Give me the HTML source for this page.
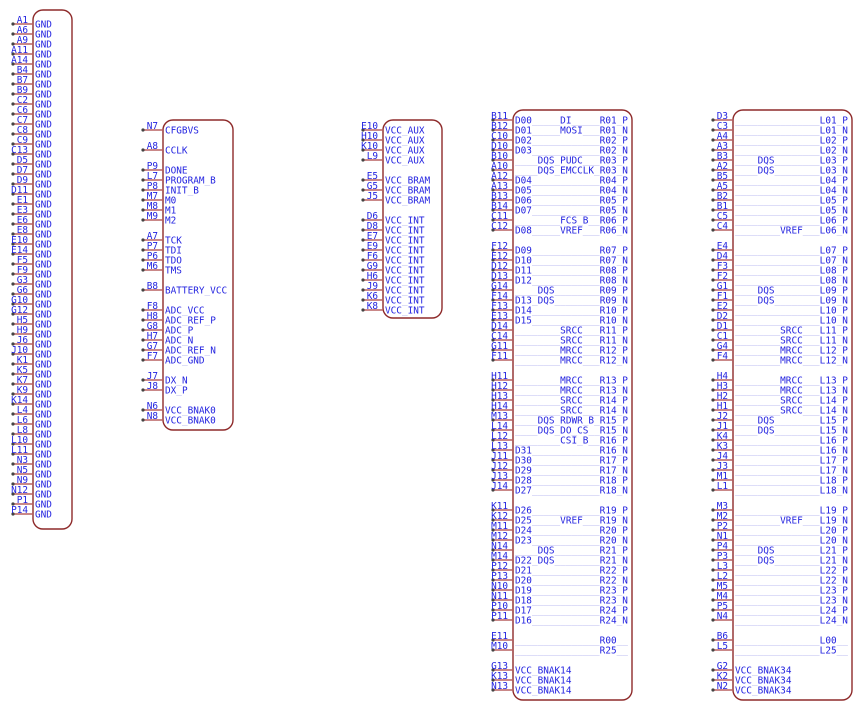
<!DOCTYPE html>
<html><head><meta charset="utf-8"><style>
html,body{margin:0;padding:0;background:#fff;}
svg{display:block}
text{font-family:"DejaVu Sans Mono","Liberation Mono",monospace;font-size:9.4px;fill:#2323e0}
.u{fill:#a9a9ee}
.pn text{text-anchor:end}
.box{fill:#fff;stroke:#8e2a2a;stroke-width:1.4}
.ln{stroke:#b86060;stroke-width:1.6;fill:none}
.dt{stroke:#444;stroke-width:3.2;stroke-linecap:round;fill:none}
</style></head><body>
<svg width="863" height="710" xmlns="http://www.w3.org/2000/svg">
<!-- boxes -->
<rect class="box" x="33" y="10" width="39" height="519" rx="10"/>
<rect class="box" x="163" y="120" width="70" height="310" rx="10"/>
<rect class="box" x="383" y="120" width="59" height="198" rx="10"/>
<rect class="box" x="513" y="110" width="119" height="590" rx="10"/>
<rect class="box" x="733" y="110" width="119" height="590" rx="10"/>

<!-- block 1 -->
<path class="ln" d="M13 24h20M13 34h20M13 44h20M13 54h20M13 64h20M13 74h20M13 84h20M13 94h20M13 104h20M13 114h20M13 124h20M13 134h20M13 144h20M13 154h20M13 164h20M13 174h20M13 184h20M13 194h20M13 204h20M13 214h20M13 224h20M13 234h20M13 244h20M13 254h20M13 264h20M13 274h20M13 284h20M13 294h20M13 304h20M13 314h20M13 324h20M13 334h20M13 344h20M13 354h20M13 364h20M13 374h20M13 384h20M13 394h20M13 404h20M13 414h20M13 424h20M13 434h20M13 444h20M13 454h20M13 464h20M13 474h20M13 484h20M13 494h20M13 504h20M13 514h20"/>
<path class="dt" d="M13 24h0M13 34h0M13 44h0M13 54h0M13 64h0M13 74h0M13 84h0M13 94h0M13 104h0M13 114h0M13 124h0M13 134h0M13 144h0M13 154h0M13 164h0M13 174h0M13 184h0M13 194h0M13 204h0M13 214h0M13 224h0M13 234h0M13 244h0M13 254h0M13 264h0M13 274h0M13 284h0M13 294h0M13 304h0M13 314h0M13 324h0M13 334h0M13 344h0M13 354h0M13 364h0M13 374h0M13 384h0M13 394h0M13 404h0M13 414h0M13 424h0M13 434h0M13 444h0M13 454h0M13 464h0M13 474h0M13 484h0M13 494h0M13 504h0M13 514h0"/>
<g class="pn">
<text x="28" y="23">A1</text><text x="28" y="33">A6</text><text x="28" y="43">A9</text><text x="28" y="53">A11</text><text x="28" y="63">A14</text><text x="28" y="73">B4</text><text x="28" y="83">B7</text><text x="28" y="93">B9</text><text x="28" y="103">C2</text><text x="28" y="113">C6</text><text x="28" y="123">C7</text><text x="28" y="133">C8</text><text x="28" y="143">C9</text><text x="28" y="153">C13</text><text x="28" y="163">D5</text><text x="28" y="173">D7</text><text x="28" y="183">D9</text><text x="28" y="193">D11</text><text x="28" y="203">E1</text><text x="28" y="213">E3</text><text x="28" y="223">E6</text><text x="28" y="233">E8</text><text x="28" y="243">E10</text><text x="28" y="253">E14</text><text x="28" y="263">F5</text><text x="28" y="273">F9</text><text x="28" y="283">G3</text><text x="28" y="293">G6</text><text x="28" y="303">G10</text><text x="28" y="313">G12</text><text x="28" y="323">H5</text><text x="28" y="333">H9</text><text x="28" y="343">J6</text><text x="28" y="353">J10</text><text x="28" y="363">K1</text><text x="28" y="373">K5</text><text x="28" y="383">K7</text><text x="28" y="393">K9</text><text x="28" y="403">K14</text><text x="28" y="413">L4</text><text x="28" y="423">L6</text><text x="28" y="433">L8</text><text x="28" y="443">L10</text><text x="28" y="453">L11</text><text x="28" y="463">N3</text><text x="28" y="473">N5</text><text x="28" y="483">N9</text><text x="28" y="493">N12</text><text x="28" y="503">P1</text><text x="28" y="513">P14</text>
</g>
<g>
<text x="35" y="27.5">GND</text><text x="35" y="37.5">GND</text><text x="35" y="47.5">GND</text><text x="35" y="57.5">GND</text><text x="35" y="67.5">GND</text><text x="35" y="77.5">GND</text><text x="35" y="87.5">GND</text><text x="35" y="97.5">GND</text><text x="35" y="107.5">GND</text><text x="35" y="117.5">GND</text><text x="35" y="127.5">GND</text><text x="35" y="137.5">GND</text><text x="35" y="147.5">GND</text><text x="35" y="157.5">GND</text><text x="35" y="167.5">GND</text><text x="35" y="177.5">GND</text><text x="35" y="187.5">GND</text><text x="35" y="197.5">GND</text><text x="35" y="207.5">GND</text><text x="35" y="217.5">GND</text><text x="35" y="227.5">GND</text><text x="35" y="237.5">GND</text><text x="35" y="247.5">GND</text><text x="35" y="257.5">GND</text><text x="35" y="267.5">GND</text><text x="35" y="277.5">GND</text><text x="35" y="287.5">GND</text><text x="35" y="297.5">GND</text><text x="35" y="307.5">GND</text><text x="35" y="317.5">GND</text><text x="35" y="327.5">GND</text><text x="35" y="337.5">GND</text><text x="35" y="347.5">GND</text><text x="35" y="357.5">GND</text><text x="35" y="367.5">GND</text><text x="35" y="377.5">GND</text><text x="35" y="387.5">GND</text><text x="35" y="397.5">GND</text><text x="35" y="407.5">GND</text><text x="35" y="417.5">GND</text><text x="35" y="427.5">GND</text><text x="35" y="437.5">GND</text><text x="35" y="447.5">GND</text><text x="35" y="457.5">GND</text><text x="35" y="467.5">GND</text><text x="35" y="477.5">GND</text><text x="35" y="487.5">GND</text><text x="35" y="497.5">GND</text><text x="35" y="507.5">GND</text><text x="35" y="517.5">GND</text>
</g>

<!-- block 2 -->
<path class="ln" d="M143 130h20M143 150h20M143 170h20M143 180h20M143 190h20M143 200h20M143 210h20M143 220h20M143 240h20M143 250h20M143 260h20M143 270h20M143 290h20M143 310h20M143 320h20M143 330h20M143 340h20M143 350h20M143 360h20M143 380h20M143 390h20M143 410h20M143 420h20"/>
<path class="dt" d="M143 130h0M143 150h0M143 170h0M143 180h0M143 190h0M143 200h0M143 210h0M143 220h0M143 240h0M143 250h0M143 260h0M143 270h0M143 290h0M143 310h0M143 320h0M143 330h0M143 340h0M143 350h0M143 360h0M143 380h0M143 390h0M143 410h0M143 420h0"/>
<g class="pn">
<text x="158" y="129">N7</text><text x="158" y="149">A8</text><text x="158" y="169">P9</text><text x="158" y="179">L7</text><text x="158" y="189">P8</text><text x="158" y="199">M7</text><text x="158" y="209">M8</text><text x="158" y="219">M9</text><text x="158" y="239">A7</text><text x="158" y="249">P7</text><text x="158" y="259">P6</text><text x="158" y="269">M6</text><text x="158" y="289">B8</text><text x="158" y="309">F8</text><text x="158" y="319">H8</text><text x="158" y="329">G8</text><text x="158" y="339">H7</text><text x="158" y="349">G7</text><text x="158" y="359">F7</text><text x="158" y="379">J7</text><text x="158" y="389">J8</text><text x="158" y="409">N6</text><text x="158" y="419">N8</text>
</g>
<g>
<text x="165" y="133.5">CFGBVS</text>
<text x="165" y="153.5">CCLK</text>
<text x="165" y="173.5">DONE</text>
<text x="165" y="183.5">PROGRAM<tspan class="u">_</tspan>B</text>
<text x="165" y="193.5">INIT<tspan class="u">_</tspan>B</text>
<text x="165" y="203.5">M0</text><text x="165" y="213.5">M1</text><text x="165" y="223.5">M2</text>
<text x="165" y="243.5">TCK</text><text x="165" y="253.5">TDI</text><text x="165" y="263.5">TDO</text><text x="165" y="273.5">TMS</text>
<text x="165" y="293.5">BATTERY<tspan class="u">_</tspan>VCC</text>
<text x="165" y="313.5">ADC<tspan class="u">_</tspan>VCC</text>
<text x="165" y="323.5">ADC<tspan class="u">_</tspan>REF<tspan class="u">_</tspan>P</text>
<text x="165" y="333.5">ADC<tspan class="u">_</tspan>P</text>
<text x="165" y="343.5">ADC<tspan class="u">_</tspan>N</text>
<text x="165" y="353.5">ADC<tspan class="u">_</tspan>REF<tspan class="u">_</tspan>N</text>
<text x="165" y="363.5">ADC<tspan class="u">_</tspan>GND</text>
<text x="165" y="383.5">DX<tspan class="u">_</tspan>N</text>
<text x="165" y="393.5">DX<tspan class="u">_</tspan>P</text>
<text x="165" y="413.5">VCC<tspan class="u">_</tspan>BNAK0</text>
<text x="165" y="423.5">VCC<tspan class="u">_</tspan>BNAK0</text>
</g>

<!-- block 3 -->
<path class="ln" d="M363 130h20M363 140h20M363 150h20M363 160h20M363 180h20M363 190h20M363 200h20M363 220h20M363 230h20M363 240h20M363 250h20M363 260h20M363 270h20M363 280h20M363 290h20M363 300h20M363 310h20"/>
<path class="dt" d="M363 130h0M363 140h0M363 150h0M363 160h0M363 180h0M363 190h0M363 200h0M363 220h0M363 230h0M363 240h0M363 250h0M363 260h0M363 270h0M363 280h0M363 290h0M363 300h0M363 310h0"/>
<g class="pn">
<text x="378" y="129">E10</text><text x="378" y="139">H10</text><text x="378" y="149">K10</text><text x="378" y="159">L9</text><text x="378" y="179">E5</text><text x="378" y="189">G5</text><text x="378" y="199">J5</text><text x="378" y="219">D6</text><text x="378" y="229">D8</text><text x="378" y="239">E7</text><text x="378" y="249">E9</text><text x="378" y="259">F6</text><text x="378" y="269">G9</text><text x="378" y="279">H6</text><text x="378" y="289">J9</text><text x="378" y="299">K6</text><text x="378" y="309">K8</text>
</g>
<g>
<text x="385" y="133.5">VCC<tspan class="u">_</tspan>AUX</text><text x="385" y="143.5">VCC<tspan class="u">_</tspan>AUX</text><text x="385" y="153.5">VCC<tspan class="u">_</tspan>AUX</text><text x="385" y="163.5">VCC<tspan class="u">_</tspan>AUX</text>
<text x="385" y="183.5">VCC<tspan class="u">_</tspan>BRAM</text><text x="385" y="193.5">VCC<tspan class="u">_</tspan>BRAM</text><text x="385" y="203.5">VCC<tspan class="u">_</tspan>BRAM</text>
<text x="385" y="223.5">VCC<tspan class="u">_</tspan>INT</text><text x="385" y="233.5">VCC<tspan class="u">_</tspan>INT</text><text x="385" y="243.5">VCC<tspan class="u">_</tspan>INT</text><text x="385" y="253.5">VCC<tspan class="u">_</tspan>INT</text><text x="385" y="263.5">VCC<tspan class="u">_</tspan>INT</text><text x="385" y="273.5">VCC<tspan class="u">_</tspan>INT</text><text x="385" y="283.5">VCC<tspan class="u">_</tspan>INT</text><text x="385" y="293.5">VCC<tspan class="u">_</tspan>INT</text><text x="385" y="303.5">VCC<tspan class="u">_</tspan>INT</text><text x="385" y="313.5">VCC<tspan class="u">_</tspan>INT</text>
</g>

<!-- block 4 & 5 pin lines -->
<path class="ln" d="M493 120h20M493 130h20M493 140h20M493 150h20M493 160h20M493 170h20M493 180h20M493 190h20M493 200h20M493 210h20M493 220h20M493 230h20M493 250h20M493 260h20M493 270h20M493 280h20M493 290h20M493 300h20M493 310h20M493 320h20M493 330h20M493 340h20M493 350h20M493 360h20M493 380h20M493 390h20M493 400h20M493 410h20M493 420h20M493 430h20M493 440h20M493 450h20M493 460h20M493 470h20M493 480h20M493 490h20M493 510h20M493 520h20M493 530h20M493 540h20M493 550h20M493 560h20M493 570h20M493 580h20M493 590h20M493 600h20M493 610h20M493 620h20M493 640h20M493 650h20M493 670h20M493 680h20M493 690h20
M713 120h20M713 130h20M713 140h20M713 150h20M713 160h20M713 170h20M713 180h20M713 190h20M713 200h20M713 210h20M713 220h20M713 230h20M713 250h20M713 260h20M713 270h20M713 280h20M713 290h20M713 300h20M713 310h20M713 320h20M713 330h20M713 340h20M713 350h20M713 360h20M713 380h20M713 390h20M713 400h20M713 410h20M713 420h20M713 430h20M713 440h20M713 450h20M713 460h20M713 470h20M713 480h20M713 490h20M713 510h20M713 520h20M713 530h20M713 540h20M713 550h20M713 560h20M713 570h20M713 580h20M713 590h20M713 600h20M713 610h20M713 620h20M713 640h20M713 650h20M713 670h20M713 680h20M713 690h20"/>
<path class="dt" d="M493 120h0M493 130h0M493 140h0M493 150h0M493 160h0M493 170h0M493 180h0M493 190h0M493 200h0M493 210h0M493 220h0M493 230h0M493 250h0M493 260h0M493 270h0M493 280h0M493 290h0M493 300h0M493 310h0M493 320h0M493 330h0M493 340h0M493 350h0M493 360h0M493 380h0M493 390h0M493 400h0M493 410h0M493 420h0M493 430h0M493 440h0M493 450h0M493 460h0M493 470h0M493 480h0M493 490h0M493 510h0M493 520h0M493 530h0M493 540h0M493 550h0M493 560h0M493 570h0M493 580h0M493 590h0M493 600h0M493 610h0M493 620h0M493 640h0M493 650h0M493 670h0M493 680h0M493 690h0
M713 120h0M713 130h0M713 140h0M713 150h0M713 160h0M713 170h0M713 180h0M713 190h0M713 200h0M713 210h0M713 220h0M713 230h0M713 250h0M713 260h0M713 270h0M713 280h0M713 290h0M713 300h0M713 310h0M713 320h0M713 330h0M713 340h0M713 350h0M713 360h0M713 380h0M713 390h0M713 400h0M713 410h0M713 420h0M713 430h0M713 440h0M713 450h0M713 460h0M713 470h0M713 480h0M713 490h0M713 510h0M713 520h0M713 530h0M713 540h0M713 550h0M713 560h0M713 570h0M713 580h0M713 590h0M713 600h0M713 610h0M713 620h0M713 640h0M713 650h0M713 670h0M713 680h0M713 690h0"/>

<!-- block 4 pin numbers -->
<g class="pn">
<text x="508" y="119">B11</text><text x="508" y="129">B12</text><text x="508" y="139">C10</text><text x="508" y="149">D10</text><text x="508" y="159">B10</text><text x="508" y="169">A10</text><text x="508" y="179">A12</text><text x="508" y="189">A13</text><text x="508" y="199">B13</text><text x="508" y="209">B14</text><text x="508" y="219">C11</text><text x="508" y="229">C12</text>
<text x="508" y="249">F12</text><text x="508" y="259">E12</text><text x="508" y="269">D12</text><text x="508" y="279">D13</text><text x="508" y="289">G14</text><text x="508" y="299">F14</text><text x="508" y="309">F13</text><text x="508" y="319">E13</text><text x="508" y="329">D14</text><text x="508" y="339">C14</text><text x="508" y="349">G11</text><text x="508" y="359">F11</text>
<text x="508" y="379">H11</text><text x="508" y="389">H12</text><text x="508" y="399">H13</text><text x="508" y="409">H14</text><text x="508" y="419">M13</text><text x="508" y="429">L14</text><text x="508" y="439">L12</text><text x="508" y="449">L13</text><text x="508" y="459">J11</text><text x="508" y="469">J12</text><text x="508" y="479">J13</text><text x="508" y="489">J14</text>
<text x="508" y="509">K11</text><text x="508" y="519">K12</text><text x="508" y="529">M11</text><text x="508" y="539">M12</text><text x="508" y="549">N14</text><text x="508" y="559">M14</text><text x="508" y="569">P12</text><text x="508" y="579">P13</text><text x="508" y="589">N10</text><text x="508" y="599">N11</text><text x="508" y="609">P10</text><text x="508" y="619">P11</text>
<text x="508" y="639">E11</text><text x="508" y="649">M10</text>
<text x="508" y="669">G13</text><text x="508" y="679">K13</text><text x="508" y="689">N13</text>
</g>
<!-- block 4 labels -->
<g>
<text x="515" y="123.5">D00<tspan class="u">_____</tspan>DI<tspan class="u">_____</tspan>R01<tspan class="u">_</tspan>P</text>
<text x="515" y="133.5">D01<tspan class="u">_____</tspan>MOSI<tspan class="u">___</tspan>R01<tspan class="u">_</tspan>N</text>
<text x="515" y="143.5">D02<tspan class="u">____________</tspan>R02<tspan class="u">_</tspan>P</text>
<text x="515" y="153.5">D03<tspan class="u">____________</tspan>R02<tspan class="u">_</tspan>N</text>
<text x="515" y="163.5"><tspan class="u">____</tspan>DQS<tspan class="u">_</tspan>PUDC<tspan class="u">___</tspan>R03<tspan class="u">_</tspan>P</text>
<text x="515" y="173.5"><tspan class="u">____</tspan>DQS<tspan class="u">_</tspan>EMCCLK<tspan class="u">_</tspan>R03<tspan class="u">_</tspan>N</text>
<text x="515" y="183.5">D04<tspan class="u">____________</tspan>R04<tspan class="u">_</tspan>P</text>
<text x="515" y="193.5">D05<tspan class="u">____________</tspan>R04<tspan class="u">_</tspan>N</text>
<text x="515" y="203.5">D06<tspan class="u">____________</tspan>R05<tspan class="u">_</tspan>P</text>
<text x="515" y="213.5">D07<tspan class="u">____________</tspan>R05<tspan class="u">_</tspan>N</text>
<text x="515" y="223.5"><tspan class="u">________</tspan>FCS<tspan class="u">_</tspan>B<tspan class="u">__</tspan>R06<tspan class="u">_</tspan>P</text>
<text x="515" y="233.5">D08<tspan class="u">_____</tspan>VREF<tspan class="u">___</tspan>R06<tspan class="u">_</tspan>N</text>
<text x="515" y="253.5">D09<tspan class="u">____________</tspan>R07<tspan class="u">_</tspan>P</text>
<text x="515" y="263.5">D10<tspan class="u">____________</tspan>R07<tspan class="u">_</tspan>N</text>
<text x="515" y="273.5">D11<tspan class="u">____________</tspan>R08<tspan class="u">_</tspan>P</text>
<text x="515" y="283.5">D12<tspan class="u">____________</tspan>R08<tspan class="u">_</tspan>N</text>
<text x="515" y="293.5"><tspan class="u">____</tspan>DQS<tspan class="u">________</tspan>R09<tspan class="u">_</tspan>P</text>
<text x="515" y="303.5">D13<tspan class="u">_</tspan>DQS<tspan class="u">________</tspan>R09<tspan class="u">_</tspan>N</text>
<text x="515" y="313.5">D14<tspan class="u">____________</tspan>R10<tspan class="u">_</tspan>P</text>
<text x="515" y="323.5">D15<tspan class="u">____________</tspan>R10<tspan class="u">_</tspan>N</text>
<text x="515" y="333.5"><tspan class="u">________</tspan>SRCC<tspan class="u">___</tspan>R11<tspan class="u">_</tspan>P</text>
<text x="515" y="343.5"><tspan class="u">________</tspan>SRCC<tspan class="u">___</tspan>R11<tspan class="u">_</tspan>N</text>
<text x="515" y="353.5"><tspan class="u">________</tspan>MRCC<tspan class="u">___</tspan>R12<tspan class="u">_</tspan>P</text>
<text x="515" y="363.5"><tspan class="u">________</tspan>MRCC<tspan class="u">___</tspan>R12<tspan class="u">_</tspan>N</text>
<text x="515" y="383.5"><tspan class="u">________</tspan>MRCC<tspan class="u">___</tspan>R13<tspan class="u">_</tspan>P</text>
<text x="515" y="393.5"><tspan class="u">________</tspan>MRCC<tspan class="u">___</tspan>R13<tspan class="u">_</tspan>N</text>
<text x="515" y="403.5"><tspan class="u">________</tspan>SRCC<tspan class="u">___</tspan>R14<tspan class="u">_</tspan>P</text>
<text x="515" y="413.5"><tspan class="u">________</tspan>SRCC<tspan class="u">___</tspan>R14<tspan class="u">_</tspan>N</text>
<text x="515" y="423.5"><tspan class="u">____</tspan>DQS<tspan class="u">_</tspan>RDWR<tspan class="u">_</tspan>B<tspan class="u">_</tspan>R15<tspan class="u">_</tspan>P</text>
<text x="515" y="433.5"><tspan class="u">____</tspan>DQS<tspan class="u">_</tspan>DO<tspan class="u">_</tspan>CS<tspan class="u">__</tspan>R15<tspan class="u">_</tspan>N</text>
<text x="515" y="443.5"><tspan class="u">________</tspan>CSI<tspan class="u">_</tspan>B<tspan class="u">__</tspan>R16<tspan class="u">_</tspan>P</text>
<text x="515" y="453.5">D31<tspan class="u">____________</tspan>R16<tspan class="u">_</tspan>N</text>
<text x="515" y="463.5">D30<tspan class="u">____________</tspan>R17<tspan class="u">_</tspan>P</text>
<text x="515" y="473.5">D29<tspan class="u">____________</tspan>R17<tspan class="u">_</tspan>N</text>
<text x="515" y="483.5">D28<tspan class="u">____________</tspan>R18<tspan class="u">_</tspan>P</text>
<text x="515" y="493.5">D27<tspan class="u">____________</tspan>R18<tspan class="u">_</tspan>N</text>
<text x="515" y="513.5">D26<tspan class="u">____________</tspan>R19<tspan class="u">_</tspan>P</text>
<text x="515" y="523.5">D25<tspan class="u">_____</tspan>VREF<tspan class="u">___</tspan>R19<tspan class="u">_</tspan>N</text>
<text x="515" y="533.5">D24<tspan class="u">____________</tspan>R20<tspan class="u">_</tspan>P</text>
<text x="515" y="543.5">D23<tspan class="u">____________</tspan>R20<tspan class="u">_</tspan>N</text>
<text x="515" y="553.5"><tspan class="u">____</tspan>DQS<tspan class="u">________</tspan>R21<tspan class="u">_</tspan>P</text>
<text x="515" y="563.5">D22<tspan class="u">_</tspan>DQS<tspan class="u">________</tspan>R21<tspan class="u">_</tspan>N</text>
<text x="515" y="573.5">D21<tspan class="u">____________</tspan>R22<tspan class="u">_</tspan>P</text>
<text x="515" y="583.5">D20<tspan class="u">____________</tspan>R22<tspan class="u">_</tspan>N</text>
<text x="515" y="593.5">D19<tspan class="u">____________</tspan>R23<tspan class="u">_</tspan>P</text>
<text x="515" y="603.5">D18<tspan class="u">____________</tspan>R23<tspan class="u">_</tspan>N</text>
<text x="515" y="613.5">D17<tspan class="u">____________</tspan>R24<tspan class="u">_</tspan>P</text>
<text x="515" y="623.5">D16<tspan class="u">____________</tspan>R24<tspan class="u">_</tspan>N</text>
<text x="515" y="643.5"><tspan class="u">_______________</tspan>R00<tspan class="u">__</tspan></text>
<text x="515" y="653.5"><tspan class="u">_______________</tspan>R25<tspan class="u">__</tspan></text>
<text x="515" y="673.5">VCC<tspan class="u">_</tspan>BNAK14</text>
<text x="515" y="683.5">VCC<tspan class="u">_</tspan>BNAK14</text>
<text x="515" y="693.5">VCC<tspan class="u">_</tspan>BNAK14</text>
</g>

<!-- block 5 pin numbers -->
<g class="pn">
<text x="728" y="119">D3</text><text x="728" y="129">C3</text><text x="728" y="139">A4</text><text x="728" y="149">A3</text><text x="728" y="159">B3</text><text x="728" y="169">A2</text><text x="728" y="179">B5</text><text x="728" y="189">A5</text><text x="728" y="199">B2</text><text x="728" y="209">B1</text><text x="728" y="219">C5</text><text x="728" y="229">C4</text>
<text x="728" y="249">E4</text><text x="728" y="259">D4</text><text x="728" y="269">F3</text><text x="728" y="279">F2</text><text x="728" y="289">G1</text><text x="728" y="299">F1</text><text x="728" y="309">E2</text><text x="728" y="319">D2</text><text x="728" y="329">D1</text><text x="728" y="339">C1</text><text x="728" y="349">G4</text><text x="728" y="359">F4</text>
<text x="728" y="379">H4</text><text x="728" y="389">H3</text><text x="728" y="399">H2</text><text x="728" y="409">H1</text><text x="728" y="419">J2</text><text x="728" y="429">J1</text><text x="728" y="439">K4</text><text x="728" y="449">K3</text><text x="728" y="459">J4</text><text x="728" y="469">J3</text><text x="728" y="479">M1</text><text x="728" y="489">L1</text>
<text x="728" y="509">M3</text><text x="728" y="519">M2</text><text x="728" y="529">P2</text><text x="728" y="539">N1</text><text x="728" y="549">P4</text><text x="728" y="559">P3</text><text x="728" y="569">L3</text><text x="728" y="579">L2</text><text x="728" y="589">M5</text><text x="728" y="599">M4</text><text x="728" y="609">P5</text><text x="728" y="619">N4</text>
<text x="728" y="639">B6</text><text x="728" y="649">L5</text>
<text x="728" y="669">G2</text><text x="728" y="679">K2</text><text x="728" y="689">N2</text>
</g>
<!-- block 5 labels -->
<g>
<text x="735" y="123.5"><tspan class="u">_______________</tspan>L01<tspan class="u">_</tspan>P</text>
<text x="735" y="133.5"><tspan class="u">_______________</tspan>L01<tspan class="u">_</tspan>N</text>
<text x="735" y="143.5"><tspan class="u">_______________</tspan>L02<tspan class="u">_</tspan>P</text>
<text x="735" y="153.5"><tspan class="u">_______________</tspan>L02<tspan class="u">_</tspan>N</text>
<text x="735" y="163.5"><tspan class="u">____</tspan>DQS<tspan class="u">________</tspan>L03<tspan class="u">_</tspan>P</text>
<text x="735" y="173.5"><tspan class="u">____</tspan>DQS<tspan class="u">________</tspan>L03<tspan class="u">_</tspan>N</text>
<text x="735" y="183.5"><tspan class="u">_______________</tspan>L04<tspan class="u">_</tspan>P</text>
<text x="735" y="193.5"><tspan class="u">_______________</tspan>L04<tspan class="u">_</tspan>N</text>
<text x="735" y="203.5"><tspan class="u">_______________</tspan>L05<tspan class="u">_</tspan>P</text>
<text x="735" y="213.5"><tspan class="u">_______________</tspan>L05<tspan class="u">_</tspan>N</text>
<text x="735" y="223.5"><tspan class="u">_______________</tspan>L06<tspan class="u">_</tspan>P</text>
<text x="735" y="233.5"><tspan class="u">________</tspan>VREF<tspan class="u">___</tspan>L06<tspan class="u">_</tspan>N</text>
<text x="735" y="253.5"><tspan class="u">_______________</tspan>L07<tspan class="u">_</tspan>P</text>
<text x="735" y="263.5"><tspan class="u">_______________</tspan>L07<tspan class="u">_</tspan>N</text>
<text x="735" y="273.5"><tspan class="u">_______________</tspan>L08<tspan class="u">_</tspan>P</text>
<text x="735" y="283.5"><tspan class="u">_______________</tspan>L08<tspan class="u">_</tspan>N</text>
<text x="735" y="293.5"><tspan class="u">____</tspan>DQS<tspan class="u">________</tspan>L09<tspan class="u">_</tspan>P</text>
<text x="735" y="303.5"><tspan class="u">____</tspan>DQS<tspan class="u">________</tspan>L09<tspan class="u">_</tspan>N</text>
<text x="735" y="313.5"><tspan class="u">_______________</tspan>L10<tspan class="u">_</tspan>P</text>
<text x="735" y="323.5"><tspan class="u">_______________</tspan>L10<tspan class="u">_</tspan>N</text>
<text x="735" y="333.5"><tspan class="u">________</tspan>SRCC<tspan class="u">___</tspan>L11<tspan class="u">_</tspan>P</text>
<text x="735" y="343.5"><tspan class="u">________</tspan>SRCC<tspan class="u">___</tspan>L11<tspan class="u">_</tspan>N</text>
<text x="735" y="353.5"><tspan class="u">________</tspan>MRCC<tspan class="u">___</tspan>L12<tspan class="u">_</tspan>P</text>
<text x="735" y="363.5"><tspan class="u">________</tspan>MRCC<tspan class="u">___</tspan>L12<tspan class="u">_</tspan>N</text>
<text x="735" y="383.5"><tspan class="u">________</tspan>MRCC<tspan class="u">___</tspan>L13<tspan class="u">_</tspan>P</text>
<text x="735" y="393.5"><tspan class="u">________</tspan>MRCC<tspan class="u">___</tspan>L13<tspan class="u">_</tspan>N</text>
<text x="735" y="403.5"><tspan class="u">________</tspan>SRCC<tspan class="u">___</tspan>L14<tspan class="u">_</tspan>P</text>
<text x="735" y="413.5"><tspan class="u">________</tspan>SRCC<tspan class="u">___</tspan>L14<tspan class="u">_</tspan>N</text>
<text x="735" y="423.5"><tspan class="u">____</tspan>DQS<tspan class="u">________</tspan>L15<tspan class="u">_</tspan>P</text>
<text x="735" y="433.5"><tspan class="u">____</tspan>DQS<tspan class="u">________</tspan>L15<tspan class="u">_</tspan>N</text>
<text x="735" y="443.5"><tspan class="u">_______________</tspan>L16<tspan class="u">_</tspan>P</text>
<text x="735" y="453.5"><tspan class="u">_______________</tspan>L16<tspan class="u">_</tspan>N</text>
<text x="735" y="463.5"><tspan class="u">_______________</tspan>L17<tspan class="u">_</tspan>P</text>
<text x="735" y="473.5"><tspan class="u">_______________</tspan>L17<tspan class="u">_</tspan>N</text>
<text x="735" y="483.5"><tspan class="u">_______________</tspan>L18<tspan class="u">_</tspan>P</text>
<text x="735" y="493.5"><tspan class="u">_______________</tspan>L18<tspan class="u">_</tspan>N</text>
<text x="735" y="513.5"><tspan class="u">_______________</tspan>L19<tspan class="u">_</tspan>P</text>
<text x="735" y="523.5"><tspan class="u">________</tspan>VREF<tspan class="u">___</tspan>L19<tspan class="u">_</tspan>N</text>
<text x="735" y="533.5"><tspan class="u">_______________</tspan>L20<tspan class="u">_</tspan>P</text>
<text x="735" y="543.5"><tspan class="u">_______________</tspan>L20<tspan class="u">_</tspan>N</text>
<text x="735" y="553.5"><tspan class="u">____</tspan>DQS<tspan class="u">________</tspan>L21<tspan class="u">_</tspan>P</text>
<text x="735" y="563.5"><tspan class="u">____</tspan>DQS<tspan class="u">________</tspan>L21<tspan class="u">_</tspan>N</text>
<text x="735" y="573.5"><tspan class="u">_______________</tspan>L22<tspan class="u">_</tspan>P</text>
<text x="735" y="583.5"><tspan class="u">_______________</tspan>L22<tspan class="u">_</tspan>N</text>
<text x="735" y="593.5"><tspan class="u">_______________</tspan>L23<tspan class="u">_</tspan>P</text>
<text x="735" y="603.5"><tspan class="u">_______________</tspan>L23<tspan class="u">_</tspan>N</text>
<text x="735" y="613.5"><tspan class="u">_______________</tspan>L24<tspan class="u">_</tspan>P</text>
<text x="735" y="623.5"><tspan class="u">_______________</tspan>L24<tspan class="u">_</tspan>N</text>
<text x="735" y="643.5"><tspan class="u">_______________</tspan>L00<tspan class="u">__</tspan></text>
<text x="735" y="653.5"><tspan class="u">_______________</tspan>L25<tspan class="u">__</tspan></text>
<text x="735" y="673.5">VCC<tspan class="u">_</tspan>BNAK34</text>
<text x="735" y="683.5">VCC<tspan class="u">_</tspan>BNAK34</text>
<text x="735" y="693.5">VCC<tspan class="u">_</tspan>BNAK34</text>
</g>
</svg>
</body></html>
